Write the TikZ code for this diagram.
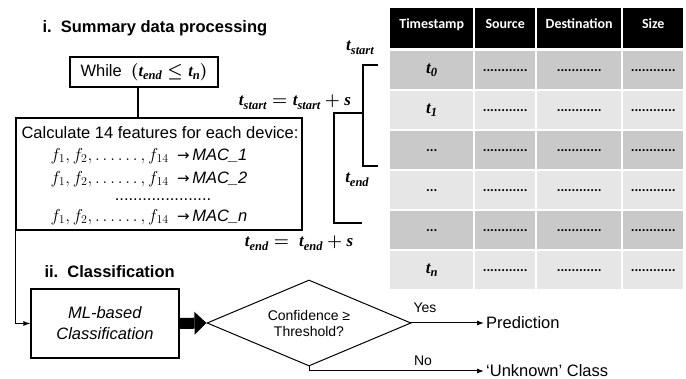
\documentclass[tikz,border=0pt]{standalone}
\usepackage{fontspec}
\setmainfont{Liberation Sans}
\newfontfamily\calfont{Carlito}
\newfontfamily\symfont{DejaVu Sans}
\newfontfamily\tfont{Liberation Serif}
\usetikzlibrary{arrows.meta,
                shapes.geometric
            }
\definecolor{rowdark}{HTML}{C9C9C9}
\definecolor{rowlight}{HTML}{E6E6E6}
\newcommand{\celldots}{\mbox{\calfont\bfseries\fontsize{14}{14}\selectfont ............}}
\newcommand{\tsdots}{\mbox{\calfont\bfseries\fontsize{14}{14}\selectfont ...}}
\newcommand{\macarrow}{\enspace{\symfont\fontsize{15}{15}\selectfont →}\,}
\newcommand{\tb}[1]{\mbox{\tfont\bfseries\itshape t\raisebox{-3.5pt}{\fontsize{12.5}{12}\selectfont #1}}}
\newcommand{\sbold}{\mbox{\tfont\bfseries\itshape s}}

\begin{document}
\begin{tikzpicture}[x=1pt, y=-1pt,
            box/.style={draw, line width=1.2pt, inner sep=0pt},
            big/.style={font=\fontsize{16.5}{21}\selectfont},
            small/.style={font=\fontsize{14}{16}\selectfont},
            mlab/.style={font=\fontsize{17}{20}\selectfont\boldmath},
            cell/.style={inner sep=0pt, minimum height=38pt, anchor=north west},
            flow/.style={-{Latex[length=7pt, width=5pt]}, line width=1pt},
            brace/.style={line width=2.4pt}
        ]
            \useasboundingbox (0,0) rectangle (686,379);

            \node[big, anchor=west, font=\bfseries\fontsize{16.5}{20}\selectfont] (title1) at (39,28) {i.\ \ Summary data processing};
            \node[box, big, minimum width=148pt, minimum height=30pt] (while) at (144,72) {While \ {\boldmath$(\tb{end} \le \tb{n})$}};
            \node[box, minimum width=286pt, minimum height=112pt] (calc) at (159,174) {};
            \node[big] (calchead) at (160,133) {Calculate 14 features for each device:};
            \node[big] (mac1) at (149,156) {$f_1, f_2, \ldots\ldots, f_{14}$\macarrow\textit{MAC\_1}};
            \node[big] (mac2) at (149,179) {$f_1, f_2, \ldots\ldots, f_{14}$\macarrow\textit{MAC\_2}};
            \node[big, inner sep=0pt] (macdots) at (163,200) {.....................};
            \node[big] (macn) at (149,217) {$f_1, f_2, \ldots\ldots, f_{14}$\macarrow\textit{MAC\_n}};
            \coordinate (wl) at ([xshift=-6pt]while.south);
            \draw[line width=2.4pt] (wl) -- (wl |- calc.north);

            \node[mlab] (tstart) at (360,48) {\tb{start}};
            \node[mlab] (tsupd) at (295,102) {$\tb{start} = \tb{start} + \sbold$};
            \node[mlab] (tend) at (357,180) {\tb{end}};
            \node[mlab] (teupd) at (299,243) {$\tb{end} =\ \tb{end} + \sbold$};
            \draw[brace] (378,65) -| (363,166) -- (378,166);
            \draw[brace] (362,113) -| (334,223) -- (362,223);

            \foreach \cx/\cw/\name [count=\c] in {390/83/Timestamp, 475/60/Source, 537/84/Destination, 623/60/Size}
                \node[cell, fill=black, text=white, minimum width=\cw pt, minimum height=40pt, inner ysep=4pt, text height=16pt, text depth=16pt, font=\calfont\bfseries\fontsize{14}{16}\selectfont] (h\c) at (\cx,8) {\name};
            \foreach \r/\tv/\rc in {0/\tb{0}/rowdark, 1/\tb{1}/rowlight, 2/\tsdots/rowdark, 3/\tsdots/rowlight, 4/\tsdots/rowdark, 5/\tb{n}/rowlight} {
                \node[cell, mlab, fill=\rc, minimum width=83pt] (c-\r-1) at (390,{51+40*\r}) {\tv};
                \foreach \cx/\cw [count=\c from 2] in {475/60, 537/84, 623/60}
                    \node[cell, fill=\rc, minimum width=\cw pt] (c-\r-\c) at (\cx,{51+40*\r}) {\celldots};
            }

            \node[big, anchor=west, font=\bfseries\fontsize{16.5}{20}\selectfont] (title2) at (41,272) {ii.\ \ Classification};
            \node[box, big, align=center, minimum width=148pt, minimum height=69pt] (ml) at (105,323.5) {\textit{ML-based}\\\textit{Classification}};
            \node[draw, diamond, line width=1pt, minimum width=204pt, minimum height=86pt, aspect=2.37, inner sep=0pt, small, align=center] (dec) at (309,323) {Confidence ≥\\Threshold?};
            \node[big, anchor=west, inner sep=0pt] (pred) at (486,323) {Prediction};
            \node[big, anchor=west, inner sep=0pt] (unk) at (486,371) {‘Unknown’ Class};
            \node[small] (yes) at (425,308) {Yes};
            \node[small] (no) at (423,361) {No};

            \draw[flow] (calc.south west) |- (ml.west);
            \draw[line width=11pt, -{Triangle[length=12pt, width=23pt, line width=0pt]}] (ml.east) -- (dec.west);
            \draw[flow] ([xshift=-2pt]pred.west -| dec.east) -- ([xshift=-2pt]pred.west);
            \draw[flow] (dec.south) |- ([xshift=-2pt]unk.west);
        \end{tikzpicture}
\end{document}
